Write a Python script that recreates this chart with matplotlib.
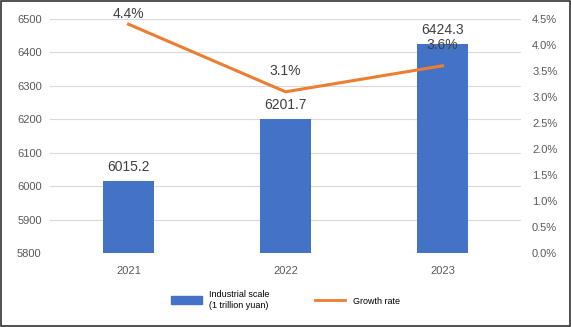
import matplotlib.pyplot as plt
import matplotlib.patches as mpatches
from matplotlib.lines import Line2D
from matplotlib.ticker import FuncFormatter

years = ['2021', '2022', '2023']
scale = [6015.2, 6201.7, 6424.3]
growth = [4.4, 3.1, 3.6]

bar_color = '#4472C4'
line_color = '#ED7D31'
text_gray = '#595959'

plt.rcParams['font.family'] = ['Liberation Sans', 'DejaVu Sans']

fig = plt.figure(figsize=(5.71, 3.27), dpi=100)
ax = fig.add_axes([50 / 571, 1 - 253 / 327, 471 / 571, 234 / 327])
x = range(len(years))
ax.bar(x, scale, width=0.32, color=bar_color, zorder=2)
ax.set_ylim(5800, 6500)
ax.set_xlim(-0.5, 2.5)
ax.set_yticks(range(5800, 6501, 100))
ax.set_xticks(list(x))
ax.set_xticklabels(years)
ax.grid(axis='y', color='#D9D9D9', linewidth=0.8, zorder=0)
for s in ax.spines.values():
    s.set_visible(False)
ax.tick_params(length=0, labelsize=8, colors=text_gray, pad=6)
ax.tick_params(axis='x', pad=9)
for i, v in enumerate(scale):
    ax.annotate(f'{v:.1f}', (i, v), xytext=(0, 5), textcoords='offset points',
                ha='center', va='bottom', fontsize=10, color='#404040')

ax2 = ax.twinx()
ax2.plot(x, growth, color=line_color, linewidth=2.2, zorder=3)
ax2.set_ylim(0, 4.5)
ax2.set_yticks([i * 0.5 for i in range(10)])
ax2.yaxis.set_major_formatter(FuncFormatter(lambda v, p: f'{v:.1f}%'))
for s in ax2.spines.values():
    s.set_visible(False)
ax2.tick_params(length=0, labelsize=8, colors=text_gray, pad=8)
for i, v in enumerate(growth):
    # labels near the top are pushed down so they stay inside the figure
    off = 10 if v < 4.2 else 2
    ax2.annotate(f'{v:.1f}%', (i, v), xytext=(0, off), textcoords='offset points',
                 ha='center', va='bottom', fontsize=10, color='#404040')

handles = [mpatches.Patch(color=bar_color), Line2D([], [], color=line_color, linewidth=2)]
fig.legend(handles, ['Industrial scale\n(1 trillion yuan)', 'Growth rate'],
           loc='center', bbox_to_anchor=(0.5, 1 - 300 / 327), ncol=2, frameon=False,
           fontsize=6.5, handlelength=3.4, handleheight=1.0, columnspacing=5)

fig.patches.append(mpatches.Rectangle((0.002, 0.003), 0.996, 0.994, transform=fig.transFigure,
                                      fill=False, edgecolor='#333333', linewidth=1.2))
fig.savefig('out.png', dpi=100)
